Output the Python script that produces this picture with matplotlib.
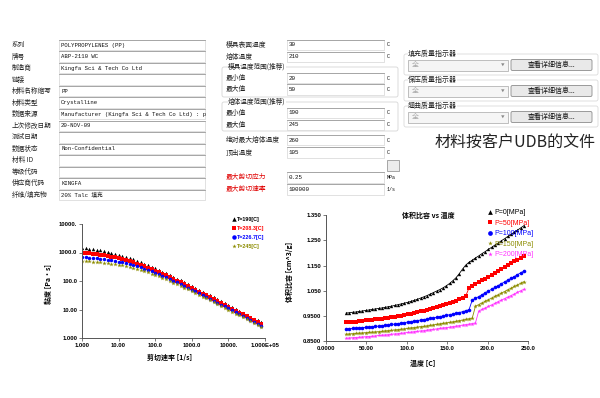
import numpy as np
import matplotlib
matplotlib.use('Agg')
import matplotlib.pyplot as plt
from matplotlib.patches import Rectangle, FancyBboxPatch
from matplotlib.lines import Line2D

CJK = ['Noto Sans CJK SC', 'DejaVu Sans']
MONO = ['Liberation Mono', 'Noto Sans CJK SC']
SANS = ['Liberation Sans', 'DejaVu Sans']
plt.rcParams['font.family'] = CJK

# ---------------- viscosity data ----------------
shear_rate = [1.0, 1.26, 1.58, 2.0, 2.51, 3.16, 3.98, 5.01, 6.31, 7.94,
              10.0, 12.6, 15.8, 20.0, 25.1, 31.6, 39.8, 50.1, 63.1, 79.4,
              100, 126, 158, 200, 251, 316, 398, 501, 631, 794,
              1000, 1260, 1580, 2000, 2510, 3160, 3980, 5010, 6310, 7940,
              10000, 12600, 15800, 20000, 25100, 31600, 39800, 50100, 63100, 79400]
visc_T190 = [1456, 1410, 1360, 1306, 1248, 1186, 1122, 1054, 985, 915,
             844, 775, 707, 641, 578, 518, 462, 410, 363, 320,
             281, 245, 214, 186, 162, 140, 121, 105, 90.2, 77.7,
             66.9, 57.5, 49.4, 42.4, 36.4, 31.2, 26.7, 22.9, 19.6, 16.8,
             14.4, 12.3, 10.5, 9.02, 7.72, 6.61, 5.65, 4.83, 4.14, 3.54]
visc_T208 = [979, 955, 929, 899, 867, 832, 795, 756, 714, 671,
             627, 582, 537, 493, 449, 407, 367, 329, 293, 260,
             230, 203, 178, 156, 136, 118, 103, 88.8, 76.8, 66.3,
             57.2, 49.2, 42.4, 36.4, 31.3, 26.8, 23.0, 19.8, 16.9, 14.5,
             12.4, 10.6, 9.11, 7.80, 6.68, 5.72, 4.89, 4.18, 3.58, 3.06]
visc_T227 = [696, 682, 667, 650, 631, 610, 587, 563, 536, 509,
             480, 450, 419, 388, 358, 327, 298, 269, 242, 217,
             193, 171, 151, 133, 116, 102, 88.6, 77.0, 66.8, 57.8,
             49.9, 43.1, 37.1, 32.0, 27.5, 23.6, 20.3, 17.4, 14.9, 12.8,
             11.0, 9.41, 8.06, 6.91, 5.91, 5.06, 4.33, 3.71, 3.17, 2.71]
visc_T245 = [506, 498, 489, 478, 467, 454, 440, 424, 408, 390,
             370, 350, 329, 308, 286, 264, 243, 221, 201, 181,
             162, 145, 129, 114, 100, 88.1, 77.1, 67.2, 58.5, 50.8,
             44.0, 38.1, 32.9, 28.4, 24.4, 21.0, 18.1, 15.5, 13.3, 11.4,
             9.81, 8.41, 7.20, 6.17, 5.29, 4.53, 3.88, 3.32, 2.84, 2.43]
visc_labels = ['T=190[C]', 'T=208.3[C]', 'T=226.7[C]', 'T=245[C]']
visc_xticks = [1, 10, 100, 1000, 10000, 100000]
visc_xticklabels = ['1.000', '10.00', '100.0', '1000.0', '10000.', '1.000E+05']
visc_yticks = [1, 10, 100, 1000, 10000]
visc_yticklabels = ['1.000', '10.00', '100.0', '1000.0', '10000.']

# ---------------- PVT data ----------------
temperature = [25, 29, 33, 37, 41, 45, 49, 53, 57, 61,
               65, 69, 73, 77, 81, 85, 89, 93, 97, 101,
               105, 109, 113, 117, 121, 125, 129, 133, 137, 141,
               145, 149, 153, 157, 161, 165, 169, 173, 177, 181,
               185, 189, 193, 197, 201, 205, 209, 213, 217, 221,
               225, 229, 233, 237, 241, 245]
sv_P0 = [0.962, 0.963, 0.965, 0.966, 0.968, 0.970, 0.972, 0.974, 0.976, 0.978,
         0.980, 0.982, 0.984, 0.987, 0.989, 0.992, 0.995, 0.998, 1.001, 1.004,
         1.008, 1.012, 1.016, 1.021, 1.026, 1.031, 1.037, 1.043, 1.049, 1.055,
         1.062, 1.070, 1.079, 1.090, 1.102, 1.118, 1.136, 1.152, 1.163, 1.171,
         1.180, 1.188, 1.197, 1.205, 1.214, 1.222, 1.231, 1.239, 1.248, 1.256,
         1.265, 1.273, 1.282, 1.290, 1.299, 1.308]
sv_P50 = [0.925, 0.926, 0.927, 0.928, 0.930, 0.931, 0.933, 0.934, 0.936, 0.937,
          0.939, 0.940, 0.942, 0.944, 0.946, 0.948, 0.950, 0.952, 0.955, 0.957,
          0.960, 0.962, 0.965, 0.968, 0.971, 0.974, 0.977, 0.980, 0.984, 0.988,
          0.992, 0.996, 1.000, 1.005, 1.010, 1.016, 1.022, 1.030, 1.061, 1.068,
          1.076, 1.083, 1.091, 1.098, 1.106, 1.113, 1.121, 1.128, 1.136, 1.143,
          1.151, 1.158, 1.166, 1.173, 1.181, 1.188]
sv_P100 = [0.899, 0.900, 0.901, 0.902, 0.903, 0.904, 0.905, 0.906, 0.908, 0.909,
           0.910, 0.912, 0.913, 0.915, 0.917, 0.918, 0.920, 0.922, 0.924, 0.926,
           0.928, 0.930, 0.932, 0.934, 0.936, 0.938, 0.941, 0.943, 0.945, 0.948,
           0.950, 0.953, 0.955, 0.958, 0.961, 0.964, 0.967, 0.971, 0.975, 1.013,
           1.020, 1.027, 1.034, 1.042, 1.049, 1.056, 1.063, 1.070, 1.078, 1.085,
           1.092, 1.099, 1.106, 1.114, 1.121, 1.128]
sv_P150 = [0.878, 0.879, 0.880, 0.881, 0.882, 0.883, 0.884, 0.885, 0.886, 0.887,
           0.888, 0.889, 0.891, 0.892, 0.893, 0.895, 0.896, 0.898, 0.899, 0.901,
           0.903, 0.904, 0.906, 0.908, 0.909, 0.911, 0.913, 0.915, 0.917, 0.919,
           0.921, 0.923, 0.925, 0.927, 0.929, 0.932, 0.934, 0.937, 0.939, 0.942,
           0.989, 0.995, 1.002, 1.008, 1.015, 1.021, 1.028, 1.034, 1.041, 1.047,
           1.054, 1.060, 1.067, 1.073, 1.080, 1.086]
sv_P200 = [0.862, 0.863, 0.864, 0.865, 0.866, 0.867, 0.868, 0.869, 0.870, 0.871,
           0.873, 0.874, 0.875, 0.876, 0.878, 0.879, 0.880, 0.882, 0.883, 0.885,
           0.886, 0.888, 0.889, 0.891, 0.892, 0.894, 0.896, 0.897, 0.899, 0.901,
           0.903, 0.904, 0.906, 0.908, 0.910, 0.912, 0.914, 0.916, 0.918, 0.920,
           0.923, 0.970, 0.976, 0.982, 0.988, 0.994, 1.000, 1.007, 1.013, 1.019,
           1.025, 1.031, 1.037, 1.044, 1.050, 1.056]
pvt_labels = ['P=0[MPa]', 'P=50[MPa]', 'P=100[MPa]', 'P=150[MPa]', 'P=200[MPa]']
pvt_xticks = [0, 50, 100, 150, 200, 250]
pvt_xticklabels = ['0.0000', '50.00', '100.0', '150.0', '200.0', '250.0']
pvt_yticks = [0.85, 0.95, 1.05, 1.15, 1.25, 1.35]
pvt_yticklabels = ['0.8500', '0.9500', '1.050', '1.150', '1.250', '1.350']

# ---------------- UI texts ----------------
left_labels = ['系列', '牌号', '制造商', '链接', '材料名称缩写', '材料类型', '数据来源',
               '上次修改日期', '测试日期', '数据状态', '材料 ID', '等级代码', '供应商代码', '纤维/填充物']
left_values = ['POLYPROPYLENES (PP)', 'ABP-2110 WC', 'Kingfa Sci & Tech Co Ltd', '', 'PP',
               'Crystalline', 'Manufacturer (Kingfa Sci & Tech Co Ltd) : p', '20-NOV-09', '',
               'Non-Confidential', '', '', 'KINGFA', '20% Talc 填充']
mid_labels = ['模具表面温度', '熔体温度', '最小值', '最大值', '最小值', '最大值',
              '绝对最大熔体温度', '顶出温度', '最大剪切应力', '最大剪切速率']
mid_values = ['30', '210', '20', '50', '190', '245', '260', '105', '0.25', '100000']
mid_units = ['C', 'C', 'C', 'C', 'C', 'C', 'C', 'C', 'MPa', '1/s']
group_titles = ['模具温度范围(推荐)', '熔体温度范围(推荐)']
quality_titles = ['填充质量指示器', '保压质量指示器', '翘曲质量指示器']

# ================= figure =================
fig = plt.figure(figsize=(6.0, 3.98), dpi=100)
ui = fig.add_axes([0, 0, 1, 1])
ui.set_xlim(0, 600)
ui.set_ylim(398, 0)
ui.axis('off')


def field(x0, x1, yc, h=10.5):
    ui.add_patch(Rectangle((x0, yc - h / 2), x1 - x0, h, facecolor='white',
                           edgecolor='#d4d4d4', lw=0.5))
    ui.plot([x0, x1], [yc - h / 2, yc - h / 2], color='#9c9c9c', lw=0.6)


# left column
for i, (lab, val) in enumerate(zip(left_labels, left_values)):
    yc = 45 + i * 11.54
    ui.text(12, yc, lab, fontsize=4.8, va='center', ha='left', color='#222222')
    field(59, 205, yc)
    if val:
        ui.text(61, yc, val, fontsize=4.1, va='center', ha='left', color='#111111',
                family=MONO)

# middle column
mid_y = [45, 57, 78, 89.5, 113, 125, 140, 152.5, 177.5, 189.5]
for gy0, gy1, title in [(67, 97, group_titles[0]), (102, 131, group_titles[1])]:
    ui.add_patch(FancyBboxPatch((222, gy0), 176, gy1 - gy0,
                                boxstyle='round,pad=0,rounding_size=2',
                                facecolor='none', edgecolor='#d6d6d6', lw=0.6))
    ui.text(228, gy0, title, fontsize=4.8, va='center', ha='left', color='#222222',
            bbox=dict(facecolor='white', edgecolor='none', pad=0.2))
for i, (lab, val, unit) in enumerate(zip(mid_labels, mid_values, mid_units)):
    yc = mid_y[i]
    col = '#e00000' if i >= 8 else '#222222'
    ui.text(226, yc, lab, fontsize=4.9, va='center', ha='left', color=col)
    field(287, 384, yc)
    ui.text(289, yc, val, fontsize=4.2, va='center', ha='left', color='#111111', family=MONO)
    ui.text(387, yc, unit, fontsize=3.6, va='center', ha='left', color='#111111', family=MONO)
ui.add_patch(Rectangle((386.5, 159.5), 12, 11, facecolor='#ececec', edgecolor='#9a9a9a', lw=0.6))

# right quality panel
for i, title in enumerate(quality_titles):
    ty = 54 + i * 26
    yc = ty + 11
    ui.add_patch(FancyBboxPatch((404, ty), 194, 21, boxstyle='round,pad=0,rounding_size=2',
                                facecolor='none', edgecolor='#dadada', lw=0.6))
    ui.text(408, ty, title, fontsize=5.0, va='center', ha='left', color='#222222',
            bbox=dict(facecolor='white', edgecolor='none', pad=0.2))
    ui.add_patch(Rectangle((408, yc - 5.5), 100, 11, facecolor='#f5f5f5',
                           edgecolor='#b4b4b4', lw=0.6))
    ui.text(412, yc, '全', fontsize=5.0, va='center', ha='left', color='#a8a8a8')
    ui.text(503, yc, '▼', fontsize=2.6, va='center', ha='center', color='#8a8a8a')
    ui.add_patch(FancyBboxPatch((511, yc - 5.5), 81, 11, boxstyle='round,pad=0,rounding_size=1.5',
                                facecolor='#e9e9e9', edgecolor='#8c8c8c', lw=0.6))
    ui.text(551.5, yc, '查看详细信息...', fontsize=5.0, va='center', ha='center', color='#111111')

ui.text(435, 143, '材料按客户UDB的文件', fontsize=11.5, va='center', ha='left', color='#222222')

# ================= viscosity chart =================
W, H = 600.0, 398.0
ax1 = fig.add_axes([82 / W, (H - 338) / H, 183 / W, 114 / H])
ax1.set_facecolor('none')
visc_series = [visc_T190, visc_T208, visc_T227, visc_T245]
visc_colors = ['#000000', '#ff0000', '#0000ff', '#8c8c00']
visc_markers = ['^', 's', 'o', '*']
visc_ms = [2.5, 2.3, 2.5, 3.3]
for ys, c, m, ms in zip(visc_series, visc_colors, visc_markers, visc_ms):
    ax1.plot(shear_rate, ys, ls='none', marker=m, ms=ms, color=c, mew=0)
ax1.set_xscale('log')
ax1.set_yscale('log')
ax1.set_xlim(1, 1e5)
ax1.set_ylim(1, 1e4)
ax1.set_xticks(visc_xticks)
ax1.set_xticklabels(visc_xticklabels, fontsize=4.2, fontweight='bold', family=SANS)
ax1.set_yticks(visc_yticks)
ax1.set_yticklabels(visc_yticklabels, fontsize=4.2, fontweight='bold', family=SANS)
ax1.minorticks_off()
ax1.tick_params(length=2, width=0.5, pad=1.5, color='#444444')
for s in ['top', 'right']:
    ax1.spines[s].set_visible(False)
for s in ['left', 'bottom']:
    ax1.spines[s].set_color('#555555')
    ax1.spines[s].set_linewidth(0.7)
ax1.set_ylabel('黏度 [Pa·s]', fontsize=5.0, fontweight='bold')
ax1.yaxis.set_label_coords(-0.165, 0.47)
ax1.set_xlabel('剪切速率 [1/s]', fontsize=5.0, fontweight='bold')
ax1.xaxis.set_label_coords(0.48, -0.135)
h1 = [Line2D([], [], ls='none', marker=m, color=c, ms=3.2, mew=0)
      for c, m in zip(visc_colors, visc_markers)]
ax1.legend(h1, visc_labels, loc='upper left', bbox_to_anchor=(0.82, 1.06), frameon=False,
           handlelength=0.6, handletextpad=0.3, labelspacing=0.75, borderpad=0,
           borderaxespad=0, labelcolor=visc_colors,
           prop={'family': SANS, 'weight': 'bold', 'size': 3.9})

# ================= PVT chart =================
ax2 = fig.add_axes([326 / W, (H - 341.3) / H, 202 / W, 126.3 / H])
ax2.set_facecolor('none')
pvt_series = [sv_P0, sv_P50, sv_P100, sv_P150, sv_P200]
pvt_colors = ['#000000', '#ff0000', '#0000ff', '#8c8c00', '#ff33ff']
pvt_markers = ['^', 's', 'o', '*', '*']
pvt_ms = [2.4, 2.4, 2.6, 3.3, 3.1]
for ys, c, m, ms in zip(pvt_series, pvt_colors, pvt_markers, pvt_ms):
    ax2.plot(temperature, ys, ls='-', lw=0.6, marker=m, ms=ms, color=c, mew=0)
ax2.set_xlim(0, 250)
ax2.set_ylim(0.85, 1.35)
ax2.set_xticks(pvt_xticks)
ax2.set_xticklabels(pvt_xticklabels, fontsize=4.2, fontweight='bold', family=SANS)
ax2.set_yticks(pvt_yticks)
ax2.set_yticklabels(pvt_yticklabels, fontsize=4.2, fontweight='bold', family=SANS)
ax2.tick_params(length=2, width=0.5, pad=1.5, color='#444444')
for s in ['top', 'right']:
    ax2.spines[s].set_visible(False)
for s in ['left', 'bottom']:
    ax2.spines[s].set_color('#555555')
    ax2.spines[s].set_linewidth(0.7)
ax2.set_ylabel('体积比容 [cm^3/g]', fontsize=5.0, fontweight='bold')
ax2.yaxis.set_label_coords(-0.163, 0.55)
ax2.set_xlabel('温度 [C]', fontsize=5.0, fontweight='bold')
ax2.xaxis.set_label_coords(0.48, -0.148)
ax2.text(0.505, 1.0, '体积比容 vs 温度', transform=ax2.transAxes, fontsize=5.0,
         fontweight='bold', ha='center', va='center')
h2 = [Line2D([], [], ls='none', marker=m, color=c, ms=3.4, mew=0)
      for c, m in zip(pvt_colors, pvt_markers)]
ax2.legend(h2, pvt_labels, loc='upper left', bbox_to_anchor=(0.80, 1.045), frameon=False,
           handlelength=0.6, handletextpad=0.35, labelspacing=0.5, borderpad=0,
           borderaxespad=0, labelcolor=pvt_colors,
           prop={'family': SANS, 'size': 5.0})

fig.savefig('out.png', dpi=100)
